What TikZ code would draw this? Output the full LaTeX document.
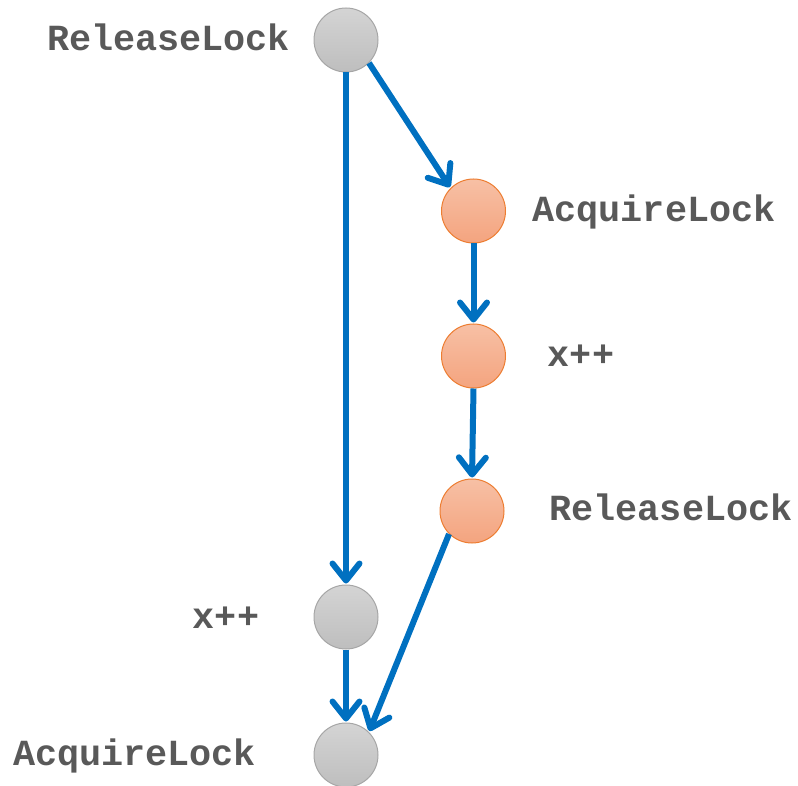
\documentclass[tikz,border=0pt]{standalone}
\usepackage{fontspec}
\setmonofont{Liberation Mono}
\usetikzlibrary{arrows.meta}
\definecolor{flow}{HTML}{0070C0}
\definecolor{labelgray}{HTML}{595959}
\definecolor{grayedge}{HTML}{A6A6A6}
\definecolor{graytop}{HTML}{D4D4D4}
\definecolor{graybot}{HTML}{BEBEBE}
\definecolor{orangeedge}{HTML}{ED7D31}
\definecolor{orangetop}{HTML}{F7C0A5}
\definecolor{orangebot}{HTML}{F4A47F}
\tikzset{
  graydot/.style={circle, minimum size=64pt, inner sep=0pt, draw=grayedge, line width=1pt,
    top color=graytop, bottom color=graybot},
  orangedot/.style={circle, minimum size=64pt, inner sep=0pt, draw=orangeedge, line width=1pt,
    top color=orangetop, bottom color=orangebot},
  lbl/.style={anchor=base, inner sep=0pt, text=labelgray,
    font=\fontsize{36.8pt}{40pt}\ttfamily\bfseries},
  flowarrow/.style={draw=flow, line width=6pt,
    -{Straight Barb[length=17pt,width=27pt,round]}, shorten >=1pt}
}
\begin{document}
\begin{tikzpicture}[x=1pt, y=-1pt]
\useasboundingbox (0,0) rectangle (798,786);

% main thread (gray)
\node[graydot] (rel1) at (346,40) {};
\node[graydot] (inc1) at (346,617) {};
\node[graydot] (acq1) at (346,755) {};

% second thread (orange)
\node[orangedot] (acq2) at (473.5,211) {};
\node[orangedot] (inc2) at (473.5,356) {};
\node[orangedot] (rel2) at (472,511) {};

% labels
\node[lbl] (trel1) at (168.5,50.5) {ReleaseLock};
\node[lbl] (tinc1) at (226,628.5) {x++};
\node[lbl] (tacq1) at (134.5,765.5) {AcquireLock};
\node[lbl] (tacq2) at (654,221.5) {AcquireLock};
\node[lbl] (tinc2) at (581,366.5) {x++};
\node[lbl] (trel2) at (671,520.5) {ReleaseLock};

% edges
\draw[flowarrow] (rel1.south) -- (inc1.north);
\draw[flowarrow] (rel1.south east) -- (acq2.north west);
\draw[flowarrow] (acq2.south) -- (inc2.north);
\draw[flowarrow] (inc2.south) -- (rel2.north);
\draw[flowarrow] (rel2.south west) -- (acq1.north east);
\draw[flowarrow] (inc1.south) -- (acq1.north);
\end{tikzpicture}
\end{document}
